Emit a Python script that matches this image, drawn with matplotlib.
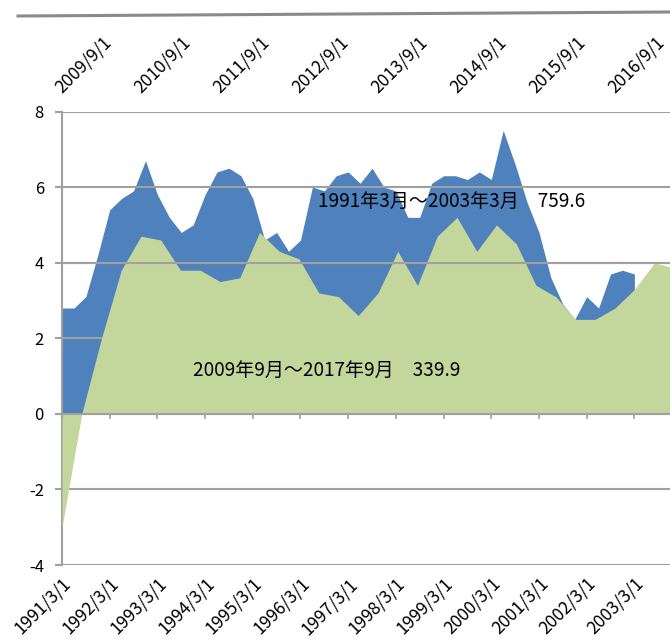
import numpy as np
import matplotlib
matplotlib.use('Agg')
import matplotlib.pyplot as plt
from matplotlib.lines import Line2D

plt.rcParams['font.family'] = ['Noto Sans CJK JP', 'DejaVu Sans']
plt.rcParams['axes.unicode_minus'] = False

# quarterly values, 1991/3 - 2003/3 (bottom axis)
bottom_labels = ['1991/3/1', '1992/3/1', '1993/3/1', '1994/3/1', '1995/3/1', '1996/3/1',
                 '1997/3/1', '1998/3/1', '1999/3/1', '2000/3/1', '2001/3/1', '2002/3/1', '2003/3/1']
blue_values = [2.8, 2.8, 3.1, 4.2, 5.4, 5.7, 5.9, 6.7, 5.8, 5.2, 4.8, 5.0, 5.8, 6.4, 6.5, 6.3,
               5.7, 4.6, 4.8, 4.3, 4.6, 6.0, 5.9, 6.3, 6.4, 6.1, 6.5, 6.0, 5.9, 5.2, 5.2, 6.1,
               6.3, 6.3, 6.2, 6.4, 6.2, 7.5, 6.6, 5.6, 4.8, 3.6, 2.9, 2.5, 3.1, 2.8, 3.7, 3.8, 3.7]

# quarterly values, 2009/9 - (top axis)
top_labels = ['2009/9/1', '2010/9/1', '2011/9/1', '2012/9/1', '2013/9/1', '2014/9/1',
              '2015/9/1', '2016/9/1']
green_values = [-3.0, 0.0, 2.0, 3.8, 4.7, 4.6, 3.8, 3.8, 3.5, 3.6, 4.8, 4.3, 4.1, 3.2, 3.1, 2.6,
                3.2, 4.3, 3.4, 4.7, 5.2, 4.3, 5.0, 4.5, 3.4, 3.1, 2.5, 2.5, 2.8, 3.3, 4.0, 3.85]

label_blue = '1991年3月～2003年3月\u3000759.6'
label_green = '2009年9月～2017年9月\u3000339.9'

BLUE = '#4f81bd'
GREEN = '#c3d69b'
GRID = '#a0a0a0'

# the two series share one plot area but have different quarter spacing
n_bottom = 53
n_top = 32
scale = n_bottom / n_top

fig = plt.figure(figsize=(6.70, 6.39), dpi=100)
ax = fig.add_axes([62 / 670, 74 / 639, 632 / 670, 453.5 / 639])

xb = np.arange(len(blue_values))
xg = np.arange(len(green_values)) * scale

ax.fill_between(xb, 0, blue_values, color=BLUE, lw=0, zorder=1)
ax.fill_between(xg, 0, green_values, color=GREEN, lw=0, zorder=3)

ax.set_xlim(0, n_bottom)
ax.set_ylim(-4, 8)
ax.set_yticks(range(-4, 9, 2))
ax.set_axisbelow(False)
ax.grid(axis='y', color=GRID, lw=1.5, zorder=2)
ax.axhline(4, color=GRID, lw=1.5, zorder=4)
ax.axhline(0, color=GRID, lw=1.5, zorder=4)

year_ticks = np.arange(0, len(blue_values), 4)
ax.vlines(year_ticks, -0.13, 0, color=GRID, lw=1.2, zorder=4)

for side in ['top', 'right', 'bottom']:
    ax.spines[side].set_visible(False)
ax.spines['left'].set_color(GRID)
ax.spines['left'].set_linewidth(1.5)
ax.tick_params(axis='y', color=GRID, width=1.5, length=5, labelsize=12, pad=8)

ax.set_xticks(year_ticks)
ax.set_xticklabels(bottom_labels, rotation=45, ha='right', va='top',
                   rotation_mode='anchor', fontsize=12.5)
ax.tick_params(axis='x', length=0, pad=7)

top = ax.secondary_xaxis('top', functions=(lambda x: x / scale, lambda x: x * scale))
top.set_xticks(np.arange(0, len(top_labels) * 4, 4))
top.set_xticklabels(top_labels, rotation=45, ha='left', va='baseline',
                    rotation_mode='anchor', fontsize=12.5)
top.tick_params(axis='x', length=0, pad=13)
top.spines['top'].set_visible(False)

ax.text(21.5, 5.63, label_blue, fontsize=13.7, va='center', ha='left', zorder=5)
ax.text(11.0, 1.15, label_green, fontsize=13.7, va='center', ha='left', zorder=5)

fig.add_artist(Line2D([18 / 670, 1.0], [1 - 16 / 639, 1 - 12 / 639], color='#8a8a8a', lw=2.2))

fig.savefig('out.png', dpi=100)
